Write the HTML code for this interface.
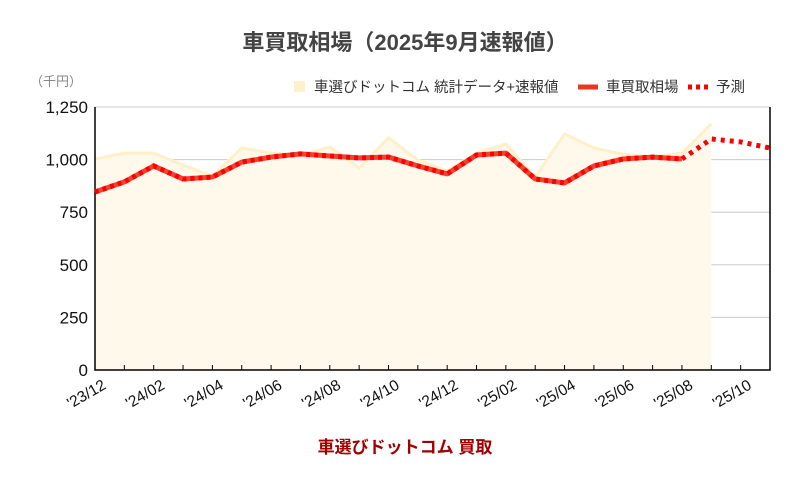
<!DOCTYPE html>
<html><head><meta charset="utf-8"><style>
body{margin:0;background:#fff;font-family:"Liberation Sans","Noto Sans CJK JP",sans-serif}
svg text{font-family:"Liberation Sans","Noto Sans CJK JP",sans-serif}
</style></head><body>
<svg id="c" width="811" height="478" xmlns="http://www.w3.org/2000/svg">
<text x="405" y="50" text-anchor="middle" font-size="22" font-weight="bold" fill="#444">車買取相場（2025年9月速報値）</text>
<text x="30" y="86" font-size="13" fill="#888">（千円）</text>
<g>
<rect x="294" y="81" width="11" height="11" fill="#fff1cc"/>
<text x="314" y="92" font-size="14.5" fill="#333">車選びドットコム 統計データ+速報値</text>
<line x1="578" y1="87" x2="598" y2="87" stroke="#ee3322" stroke-width="5"/>
<text x="606" y="92" font-size="14.5" fill="#333">車買取相場</text>
<line x1="688" y1="87" x2="708" y2="87" stroke="#f00" stroke-width="5" stroke-dasharray="4,4"/>
<text x="716" y="92" font-size="14.5" fill="#333">予測</text>
</g>
<g id="plot"></g>
<text x="405" y="453" text-anchor="middle" font-size="17" font-weight="bold" fill="#a00000">車選びドットコム 買取</text>
</svg>
<script>
const months=["'23/12","'24/01","'24/02","'24/03","'24/04","'24/05","'24/06","'24/07","'24/08","'24/09","'24/10","'24/11","'24/12","'25/01","'25/02","'25/03","'25/04","'25/05","'25/06","'25/07","'25/08","'25/09","'25/10","'25/11"];
const priceValues=[846,894,970,908,917,988,1012,1027,1017,1008,1012,970,932,1022,1031,908,889,970,1003,1012,1003];
const forecastValues=[1003,1098,1084,1055];
const statValues=[1003,1031,1031,974,922,1055,1031,1020,1060,960,1103,998,946,1030,1074,917,1122,1055,1025,1012,1031,1169];
const yTicks=[0,250,500,750,1000,1250];
const yTickLabels=["0","250","500","750","1,000","1,250"];
const xLabelEvery=2;
const NS="http://www.w3.org/2000/svg";
const X0=95,X1=770,Y0=370,Y1=107,YMAX=1250;
const xs=i=>X0+(X1-X0)*i/(months.length-1);
const ys=v=>Y0-(Y0-Y1)*v/YMAX;
const g=document.getElementById('plot');
function mk(t,a){const e=document.createElementNS(NS,t);for(const k in a)e.setAttribute(k,a[k]);g.appendChild(e);return e;}
yTicks.forEach((v,i)=>{
 const l=mk('line',{x1:X0,x2:X1,y1:ys(v),y2:ys(v),stroke:'#ccc','stroke-width':1});
 
 
 const t=mk('text',{x:88,y:ys(v)+6,'text-anchor':'end','font-size':17,fill:'#111'});
 t.textContent=yTickLabels[i];
 
 
});
let ap='M'+xs(0)+','+Y0;statValues.forEach((v,i)=>ap+=' L'+xs(i)+','+ys(v));ap+=' L'+xs(statValues.length-1)+','+Y0+'Z';
const area=mk('path',{d:ap,fill:'#fff9ec'});


const sl=mk('polyline',{points:statValues.map((v,i)=>xs(i)+','+ys(v)).join(' '),fill:'none',stroke:'#fff0c8','stroke-width':3});


const ax=mk('path',{d:`M${X0},${Y1} V${Y0} H${X1} V${Y1}`,fill:'none',stroke:'#000','stroke-width':1.5});


months.forEach((m,i)=>{
 const tk=mk('line',{x1:xs(i),x2:xs(i),y1:Y0,y2:Y0-5,stroke:'#000'});
 
 
 if(i%xLabelEvery===0){
  const x=xs(i)+12,y=388;
  const t=mk('text',{x:x,y:y,'text-anchor':'end','font-size':15.5,fill:'#111',transform:`rotate(-30 ${x} ${y})`});
  t.textContent=m;
  
  
 }
});
const pp=priceValues.map((v,i)=>xs(i)+','+ys(v)).join(' ');
const p1=mk('polyline',{points:pp,fill:'none',stroke:'#ee4433','stroke-width':5,'stroke-linejoin':'round'});


const p2=mk('polyline',{points:pp,fill:'none',stroke:'#ff0000','stroke-width':5,'stroke-dasharray':'4,4'});


const off=priceValues.length-1;
const fc=mk('polyline',{points:forecastValues.map((v,i)=>xs(off+i)+','+ys(v)).join(' '),fill:'none',stroke:'#ff0000','stroke-width':5,'stroke-dasharray':'4,5'});


</script>
</body></html>
